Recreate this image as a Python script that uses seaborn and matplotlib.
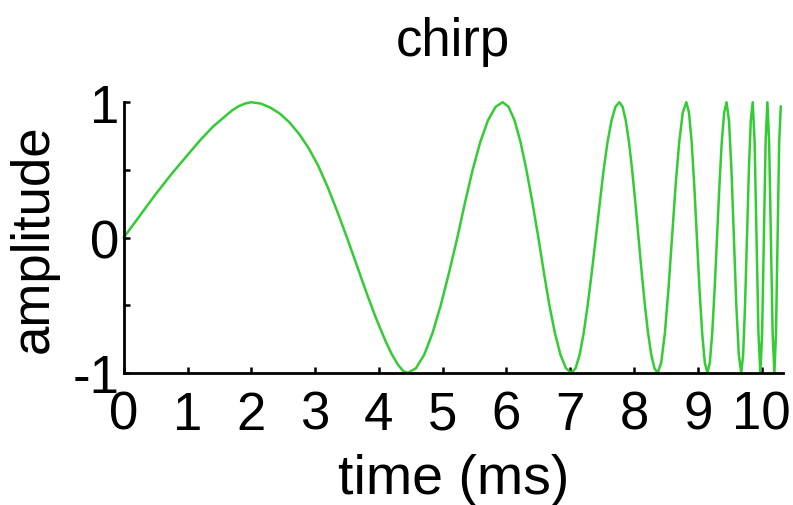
import numpy as np
import pandas as pd
import matplotlib
matplotlib.use("Agg")
import matplotlib.pyplot as plt
import seaborn as sns

# time (ms) and amplitude values
time_ms = [
    # rise to first peak
    0.0, 0.25, 0.5, 0.75, 1.0, 1.2, 1.4, 1.55, 1.7, 1.8, 1.9, 2.0,
    # first fall
    2.15, 2.3, 2.45, 2.6, 2.75, 2.9, 3.05, 3.2, 3.35, 3.5, 3.65, 3.8,
    3.95, 4.1, 4.2, 4.3, 4.38, 4.45,
    # rise
    4.58, 4.71, 4.84, 4.97, 5.10, 5.23, 5.35, 5.47, 5.59, 5.71, 5.83, 5.94,
    # fall
    6.033, 6.127, 6.22, 6.313, 6.407, 6.50, 6.587, 6.673, 6.76, 6.847,
    6.933, 7.02,
    # rise
    7.083, 7.147, 7.21, 7.273, 7.337, 7.40, 7.462, 7.523, 7.585, 7.647,
    7.708, 7.77,
    # fall
    7.82, 7.87, 7.92, 7.97, 8.02, 8.07, 8.12, 8.17, 8.22, 8.27, 8.32, 8.37,
    # rise
    8.426, 8.483, 8.539, 8.595, 8.651, 8.708, 8.764, 8.82,
    # fall
    8.861, 8.903, 8.944, 8.985, 9.026, 9.068, 9.109, 9.15,
    # rise
    9.188, 9.225, 9.263, 9.30, 9.338, 9.375, 9.413, 9.45,
    # fall
    9.488, 9.527, 9.565, 9.603, 9.642, 9.68,
    # rise
    9.71, 9.74, 9.77, 9.80, 9.83, 9.86,
    # fall
    9.89, 9.92, 9.95, 9.98,
    # rise
    10.0075, 10.035, 10.0625, 10.09,
    # fall
    10.1175, 10.145, 10.1725, 10.20,
    # final rise
    10.225, 10.25, 10.275, 10.30,
]
amplitude = [
    0.0, 0.16, 0.32, 0.47, 0.61, 0.72, 0.82, 0.88, 0.94, 0.97, 0.99, 1.0,
    0.99, 0.96, 0.915, 0.85, 0.765, 0.66, 0.53, 0.37, 0.19, 0.0, -0.2, -0.4,
    -0.59, -0.76, -0.86, -0.94, -0.985, -1.0,
    -0.966, -0.866, -0.707, -0.5, -0.259, 0.0, 0.259, 0.5, 0.707, 0.866,
    0.966, 1.0,
    0.966, 0.866, 0.707, 0.5, 0.259, 0.0, -0.259, -0.5, -0.707, -0.866,
    -0.966, -1.0,
    -0.966, -0.866, -0.707, -0.5, -0.259, 0.0, 0.259, 0.5, 0.707, 0.866,
    0.966, 1.0,
    0.966, 0.866, 0.707, 0.5, 0.259, 0.0, -0.259, -0.5, -0.707, -0.866,
    -0.966, -1.0,
    -0.924, -0.707, -0.383, 0.0, 0.383, 0.707, 0.924, 1.0,
    0.924, 0.707, 0.383, 0.0, -0.383, -0.707, -0.924, -1.0,
    -0.924, -0.707, -0.383, 0.0, 0.383, 0.707, 0.924, 1.0,
    0.866, 0.5, 0.0, -0.5, -0.866, -1.0,
    -0.866, -0.5, 0.0, 0.5, 0.866, 1.0,
    0.707, 0.0, -0.707, -1.0,
    -0.707, 0.0, 0.707, 1.0,
    0.707, 0.0, -0.707, -1.0,
    -0.707, 0.0, 0.707, 0.97,
]
x_ticks = [0, 1, 2, 3, 4, 5, 6, 7, 8, 9, 10]
y_ticks = [-1, -0.5, 0, 0.5, 1]
y_tick_labels = ["-1", "", "0", "", "1"]

sns.set_theme(style="white")
plt.rcParams["font.family"] = ["Liberation Sans", "DejaVu Sans"]

fig = plt.figure(figsize=(7.93, 5.06), dpi=100)
ax = fig.add_axes([0.156, 0.261, 0.987 - 0.156, 0.796 - 0.261])

df = pd.DataFrame({"time": time_ms, "amp": amplitude})
sns.lineplot(data=df, x="time", y="amp", ax=ax, color="#33cc33",
             linewidth=1.8, estimator=None, sort=False, clip_on=False)

ax.set_xlim(0, 10.33)
ax.set_ylim(-1, 1)
ax.set_xticks(x_ticks)
ax.set_xticklabels([str(v) for v in x_ticks])
ax.set_yticks(y_ticks)
ax.set_yticklabels(y_tick_labels)

for side in ["top", "right"]:
    ax.spines[side].set_visible(False)
for side in ["left", "bottom"]:
    ax.spines[side].set_color("black")
    ax.spines[side].set_linewidth(2.0)

ax.tick_params(axis="both", direction="in", length=4, width=1.8,
               colors="black", labelsize=38, left=True, bottom=True)
ax.tick_params(axis="y", pad=3)
ax.tick_params(axis="x", pad=12)

ax.set_xlabel("time (ms)", fontsize=40, labelpad=10, color="black")
ax.set_ylabel("amplitude", fontsize=38, labelpad=10, color="black")
ax.set_title("chirp", fontsize=38, pad=34, color="black")

fig.savefig("out.png", dpi=100)
